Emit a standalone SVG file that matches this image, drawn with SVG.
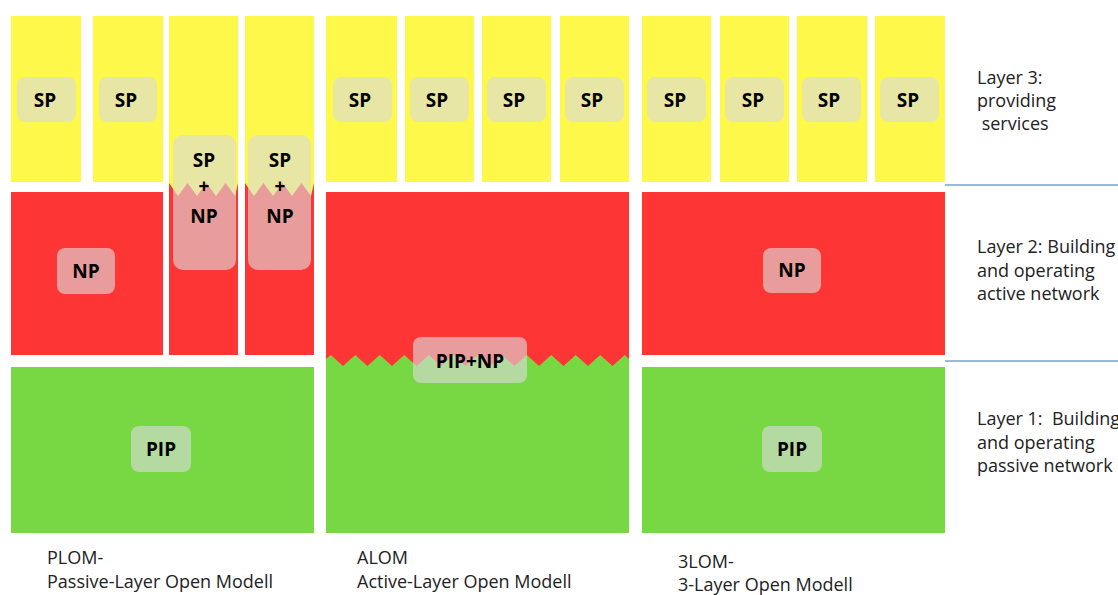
<svg xmlns="http://www.w3.org/2000/svg" width="1118" height="595" viewBox="0 0 1118 595">
  <style>
    .sp { fill: #fdf84a; }
    .np { fill: #fe3535; }
    .pip { fill: #78d843; }
    .tag { fill: #dcdcdc; fill-opacity: 0.62; }
    .lbl { font-family: "Open Sans", "DejaVu Sans", sans-serif; font-weight: 700; font-size: 19px; fill: #000; text-anchor: middle; }
    .note { font-family: "Open Sans", "DejaVu Sans", sans-serif; font-size: 18px; fill: #222; white-space: pre; }
    .sep { stroke: #7ba3c8; stroke-width: 1.5; }
  </style>
  <rect width="1118" height="595" fill="#ffffff"/>

  <!-- PLOM: passive layer open model -->
  <g id="plom">
    <rect class="sp" x="11" y="16" width="70" height="166"/>
    <rect class="sp" x="93" y="16" width="70" height="166"/>
    <rect class="np" x="11" y="192" width="152" height="163"/>
    <!-- combined SP + NP columns -->
    <rect class="np" x="169" y="183" width="69" height="172"/>
    <rect class="np" x="245" y="183" width="69" height="172"/>
    <polygon class="sp" points="169,16 238,16 238,183 235,196 225.5,183 216,196 206.5,183 197,196 187.5,183 178,196 169,183"/>
    <polygon class="sp" points="245,16 314,16 314,183 311,196 301.5,183 292,196 282.5,183 273,196 263.5,183 254,196 245,183"/>
    <rect class="pip" x="11" y="367" width="303" height="166"/>
  </g>
  <g id="plom-sp1">
    <rect class="tag" x="17" y="77" width="59" height="45" rx="8"/>
    <text class="lbl" x="45" y="107">SP</text>
  </g>
  <g id="plom-sp2">
    <rect class="tag" x="99" y="77" width="58" height="45" rx="8"/>
    <text class="lbl" x="126" y="107">SP</text>
  </g>
  <g id="plom-spnp1">
    <rect class="tag" x="173" y="135" width="63" height="135" rx="10"/>
    <text class="lbl" x="204" y="167">SP</text>
    <text class="lbl" x="204" y="193">+</text>
    <text class="lbl" x="204" y="223">NP</text>
  </g>
  <g id="plom-spnp2">
    <rect class="tag" x="248" y="135" width="63" height="135" rx="10"/>
    <text class="lbl" x="280" y="167">SP</text>
    <text class="lbl" x="280" y="193">+</text>
    <text class="lbl" x="280" y="223">NP</text>
  </g>
  <g id="plom-np">
    <rect class="tag" x="57" y="248" width="58" height="46" rx="8"/>
    <text class="lbl" x="86" y="278">NP</text>
  </g>
  <g id="plom-pip">
    <rect class="tag" x="131" y="426" width="60" height="46" rx="8"/>
    <text class="lbl" x="161" y="456">PIP</text>
  </g>

  <!-- ALOM: active layer open model -->
  <g id="alom">
    <rect class="sp" x="326" y="16" width="71" height="166"/>
    <rect class="sp" x="405" y="16" width="69" height="166"/>
    <rect class="sp" x="482" y="16" width="69" height="166"/>
    <rect class="sp" x="560" y="16" width="69" height="166"/>
    <rect class="pip" x="326" y="355" width="303" height="178"/>
    <polygon class="np" points="326,192 629,192 629,359 624.75,355 612.5,366 600.25,355 588,366 575.75,355 563.5,366 551.25,355 539,366 526.75,355 514.5,366 502.25,355 490,366 477.75,355 465.5,366 453.25,355 441,366 428.75,355 416.5,366 404.25,355 392,366 379.75,355 367.5,366 355.25,355 343,366 330.75,355 326,359"/>
  </g>
  <g id="alom-sp1">
    <rect class="tag" x="333" y="77" width="59" height="45" rx="8"/>
    <text class="lbl" x="360" y="107">SP</text>
  </g>
  <g id="alom-sp2">
    <rect class="tag" x="410" y="77" width="59" height="45" rx="8"/>
    <text class="lbl" x="437" y="107">SP</text>
  </g>
  <g id="alom-sp3">
    <rect class="tag" x="487" y="77" width="59" height="45" rx="8"/>
    <text class="lbl" x="514" y="107">SP</text>
  </g>
  <g id="alom-sp4">
    <rect class="tag" x="565" y="77" width="59" height="45" rx="8"/>
    <text class="lbl" x="592" y="107">SP</text>
  </g>
  <g id="alom-pipnp">
    <rect class="tag" x="413" y="337" width="114" height="46" rx="8"/>
    <text class="lbl" x="470" y="368">PIP+NP</text>
  </g>

  <!-- 3LOM: three layer open model -->
  <g id="lom3">
    <rect class="sp" x="642" y="16" width="69" height="166"/>
    <rect class="sp" x="720" y="16" width="69" height="166"/>
    <rect class="sp" x="797" y="16" width="70" height="166"/>
    <rect class="sp" x="875" y="16" width="70" height="166"/>
    <rect class="np" x="642" y="192" width="303" height="163"/>
    <rect class="pip" x="642" y="367" width="303" height="166"/>
  </g>
  <g id="lom3-sp1">
    <rect class="tag" x="647" y="77" width="59" height="45" rx="8"/>
    <text class="lbl" x="675" y="107">SP</text>
  </g>
  <g id="lom3-sp2">
    <rect class="tag" x="725" y="77" width="59" height="45" rx="8"/>
    <text class="lbl" x="753" y="107">SP</text>
  </g>
  <g id="lom3-sp3">
    <rect class="tag" x="802" y="77" width="59" height="45" rx="8"/>
    <text class="lbl" x="829" y="107">SP</text>
  </g>
  <g id="lom3-sp4">
    <rect class="tag" x="880" y="77" width="59" height="45" rx="8"/>
    <text class="lbl" x="908" y="107">SP</text>
  </g>
  <g id="lom3-np">
    <rect class="tag" x="763" y="248" width="58" height="45" rx="8"/>
    <text class="lbl" x="792" y="277">NP</text>
  </g>
  <g id="lom3-pip">
    <rect class="tag" x="762" y="426" width="60" height="46" rx="8"/>
    <text class="lbl" x="792" y="456">PIP</text>
  </g>

  <!-- layer separators on the right -->
  <g id="connectors">
    <line class="sep" x1="945" y1="185" x2="1118" y2="185"/>
    <line class="sep" x1="945" y1="361" x2="1118" y2="361"/>
  </g>

  <!-- layer descriptions -->
  <g id="layer3-text">
    <text class="note" x="977" y="84">Layer 3:</text>
    <text class="note" x="977" y="107">providing</text>
    <text class="note" x="977" y="130"> services</text>
  </g>
  <g id="layer2-text">
    <text class="note" x="977" y="253">Layer 2: Building</text>
    <text class="note" x="977" y="277">and operating</text>
    <text class="note" x="977" y="300">active network</text>
  </g>
  <g id="layer1-text">
    <text class="note" x="977" y="425">Layer 1:  Building</text>
    <text class="note" x="977" y="449">and operating</text>
    <text class="note" x="977" y="472">passive network</text>
  </g>

  <!-- model captions -->
  <g id="caption-plom">
    <text class="note" x="47" y="564">PLOM-</text>
    <text class="note" x="47" y="588">Passive-Layer Open Modell</text>
  </g>
  <g id="caption-alom">
    <text class="note" x="357" y="564">ALOM</text>
    <text class="note" x="357" y="588">Active-Layer Open Modell</text>
  </g>
  <g id="caption-3lom">
    <text class="note" x="678" y="568">3LOM-</text>
    <text class="note" x="678" y="591">3-Layer Open Modell</text>
  </g>
</svg>
